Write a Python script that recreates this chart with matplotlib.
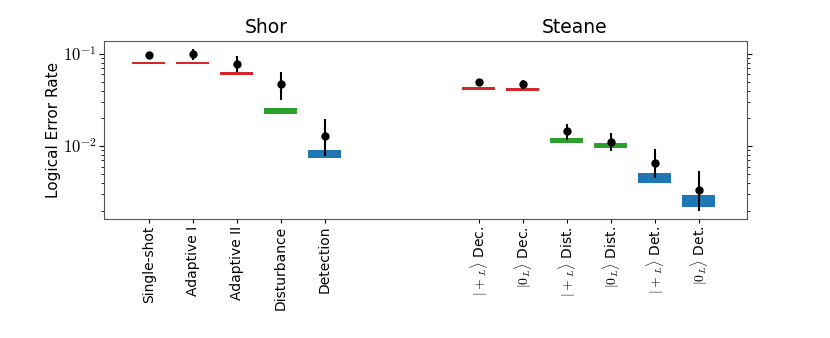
import matplotlib
matplotlib.use("Agg")
import matplotlib.pyplot as plt
from matplotlib.ticker import FuncFormatter
import numpy as np

plt.rcParams['mathtext.fontset'] = 'cm'
plt.rcParams['font.family'] = ['DejaVu Sans']

labels = ["Single-shot", "Adaptive I", "Adaptive II", "Disturbance", "Detection",
          r"$|+_L\rangle$ Dec.", r"$|0_L\rangle$ Dec.", r"$|+_L\rangle$ Dist.",
          r"$|0_L\rangle$ Dist.", r"$|+_L\rangle$ Det.", r"$|0_L\rangle$ Det."]
positions = [0, 1, 2, 3, 4, 7.5, 8.5, 9.5, 10.5, 11.5, 12.5]
band_low = [0.0782, 0.0778, 0.0585, 0.0222, 0.0075, 0.0405, 0.0398, 0.0108, 0.0095, 0.0040, 0.00216]
band_high = [0.0815, 0.0825, 0.0634, 0.0258, 0.0090, 0.0440, 0.0425, 0.0123, 0.0108, 0.0051, 0.00296]
band_colors = ["#d62728", "#d62728", "#d62728", "#2ca02c", "#1f77b4",
               "#d62728", "#d62728", "#2ca02c", "#2ca02c", "#1f77b4", "#1f77b4"]
measured = [0.0975, 0.100, 0.0785, 0.0466, 0.0129, 0.0489, 0.0473, 0.01455, 0.0111, 0.00655, 0.00337]
err_low = [0.089, 0.085, 0.0628, 0.0312, 0.0079, 0.045, 0.042, 0.0117, 0.0088, 0.00447, 0.00196]
err_high = [0.104, 0.113, 0.0935, 0.0628, 0.0198, 0.052, 0.0514, 0.0172, 0.0138, 0.0092, 0.0054]

fig = plt.figure(figsize=(8.3, 3.38), dpi=100)
ax = fig.add_axes([0.1253, 0.352, 0.7747, 0.527])

heights = [h - l for h, l in zip(band_high, band_low)]
ax.bar(positions, heights, bottom=band_low, width=0.75, color=band_colors, zorder=2)

meas = np.array(measured)
yerr = np.vstack([meas - np.array(err_low), np.array(err_high) - meas])
ax.errorbar(positions, measured, yerr=yerr, fmt='o', color='black', ms=5, elinewidth=1.5,
            capsize=0, zorder=3)

ax.set_yscale('log')
ax.set_ylim(0.00162, 0.138)
ax.set_xlim(-1.02, 13.6)
ax.yaxis.set_major_formatter(FuncFormatter(lambda v, p: r"$10^{%d}$" % int(round(np.log10(v)))))
ax.set_xticks(positions)
ax.set_xticklabels(labels, rotation=90, fontsize=10)
ax.tick_params(axis='y', which='both', right=True, direction='out', labelsize=12, pad=2)
ax.tick_params(axis='x', length=3, pad=2)
ax.set_ylabel("Logical Error Rate", fontsize=11, labelpad=1)
for s in ax.spines.values():
    s.set_color('#555555')

ax.text(2.66, 1.02, "Shor", transform=ax.get_xaxis_transform(), ha='center', va='bottom', fontsize=13.5)
ax.text(9.68, 1.02, "Steane", transform=ax.get_xaxis_transform(), ha='center', va='bottom', fontsize=13.5)

fig.savefig("out.png", dpi=100)
